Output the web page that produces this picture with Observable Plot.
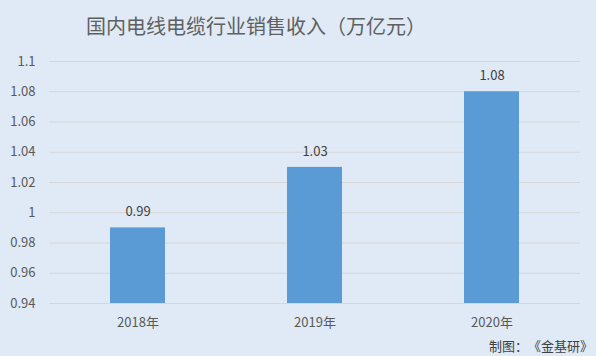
<!DOCTYPE html>
<html lang="zh-CN">
<head>
<meta charset="utf-8">
<script src="https://cdn.jsdelivr.net/npm/d3@7"></script>
<script src="https://cdn.jsdelivr.net/npm/@observablehq/plot@0.6"></script>
<style>
  html, body { margin: 0; padding: 0; }
  body { width: 596px; height: 356px; background: #dfeaf6; overflow: hidden; position: relative;
         font-family: "Noto Sans CJK SC", "Noto Sans", sans-serif; text-spacing-trim: space-all; }
  #title { position: absolute; left: 0; top: 11px; width: 512px; text-align: center;
           font-size: 20px; color: #606060; line-height: 30px; }
  #chart { position: absolute; left: 0; top: 48px; }
  #caption { position: absolute; left: 489px; top: 336px; font-size: 13px; color: #404040; line-height: 20px; white-space: nowrap; text-spacing-trim: space-all; }
</style>
</head>
<body>
<div id="title">国内电线电缆行业销售收入（万亿元）</div>
<div id="chart"></div>
<div id="caption">制图：《金基研》</div>
<script>
const years = ["2018年", "2019年", "2020年"];
const revenue = [0.99, 1.03, 1.08];
const yTicks = [0.94, 0.96, 0.98, 1.0, 1.02, 1.04, 1.06, 1.08, 1.1];
const labels = ["0.99", "1.03", "1.08"];

const data = years.map((y, i) => ({year: y, value: revenue[i], label: labels[i]}));

const chart = Plot.plot({
  width: 596,
  height: 290,
  marginTop: 13,
  marginBottom: 35,
  marginLeft: 49,
  marginRight: 16,
  style: {background: "transparent", fontFamily: "\"Noto Sans CJK SC\", sans-serif", fontSize: "12.5px", color: "#595959"},
  x: {domain: years, paddingInner: 0.69, paddingOuter: 0.345, label: null},
  y: {domain: [0.94, 1.1], label: null},
  marks: [
    Plot.gridY(yTicks, {stroke: "#d6d6d6", strokeOpacity: 1, strokeWidth: 1}),
    Plot.barY(data, {x: "year", y1: 0.94, y2: "value", fill: "#5b9bd5"}),
    Plot.text(data, {x: "year", y: "value", text: "label", dy: -16, fill: "#404040", fontSize: 13}),
    Plot.axisY(yTicks, {tickSize: 0, tickPadding: 14, tickFormat: d => String(+d.toFixed(2)), fill: "#595959", fontSize: 13}),
    Plot.axisX({tickSize: 0, tickPadding: 14, fill: "#595959", fontSize: 13})
  ]
});
document.getElementById("chart").appendChild(chart);
</script>
</body>
</html>
